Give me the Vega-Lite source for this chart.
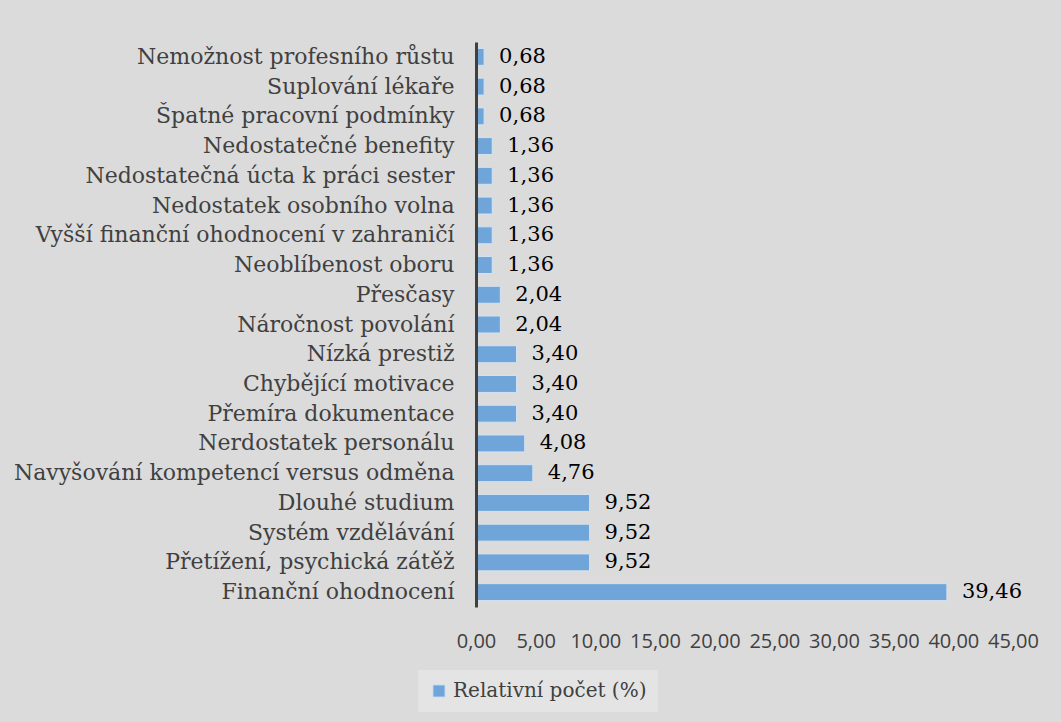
{
  "$schema": "https://vega.github.io/schema/vega-lite/v6.json",
  "width": 537,
  "height": 565,
  "autosize": {"type": "none"},
  "padding": {"left": 476, "top": 42, "right": 48, "bottom": 115},
  "background": "#dbdbdb",
  "config": {
    "locale": {"number": {"decimal": ",", "thousands": " ", "grouping": [3], "currency": ["", " Kč"]}},
    "view": {"stroke": null}
  },
  "data": {
    "values": [
      {"duvod": "Nemožnost profesního růstu", "procento": 0.68},
      {"duvod": "Suplování lékaře", "procento": 0.68},
      {"duvod": "Špatné pracovní podmínky", "procento": 0.68},
      {"duvod": "Nedostatečné benefity", "procento": 1.36},
      {"duvod": "Nedostatečná úcta k práci sester", "procento": 1.36},
      {"duvod": "Nedostatek osobního volna", "procento": 1.36},
      {"duvod": "Vyšší finanční ohodnocení v zahraničí", "procento": 1.36},
      {"duvod": "Neoblíbenost oboru ", "procento": 1.36},
      {"duvod": "Přesčasy", "procento": 2.04},
      {"duvod": "Náročnost povolání", "procento": 2.04},
      {"duvod": "Nízká prestiž", "procento": 3.40},
      {"duvod": "Chybějící motivace", "procento": 3.40},
      {"duvod": "Přemíra dokumentace", "procento": 3.40},
      {"duvod": "Nerdostatek personálu", "procento": 4.08},
      {"duvod": "Navyšování kompetencí versus odměna", "procento": 4.76},
      {"duvod": "Dlouhé studium", "procento": 9.52},
      {"duvod": "Systém vzdělávání", "procento": 9.52},
      {"duvod": "Přetížení, psychická zátěž", "procento": 9.52},
      {"duvod": "Finanční ohodnocení", "procento": 39.46}
    ]
  },
  "encoding": {
    "y": {
      "field": "duvod",
      "type": "nominal",
      "sort": null,
      "scale": {"paddingInner": 0.43, "paddingOuter": 0.215},
      "axis": {
        "title": null,
        "ticks": false,
        "domain": true,
        "domainColor": "#404040",
        "domainWidth": 3,
        "zindex": 1,
        "labelFont": "DejaVu Serif",
        "labelFontSize": 22,
        "labelColor": "#404040",
        "labelPadding": 22,
        "labelLimit": 600
      }
    },
    "x": {
      "field": "procento",
      "type": "quantitative",
      "scale": {"domain": [0, 45], "nice": false},
      "axis": {
        "title": null,
        "grid": false,
        "ticks": false,
        "domain": false,
        "values": [0, 5, 10, 15, 20, 25, 30, 35, 40, 45],
        "format": ".2f",
        "labelFont": "Open Sans",
        "labelFontSize": 20,
        "labelColor": "#404040",
        "labelPadding": 24,
        "labelFlush": false,
        "labelOverlap": false
      }
    }
  },
  "layer": [
    {
      "mark": {"type": "bar", "stroke": "#d2e3f3", "strokeWidth": 1},
      "encoding": {
        "color": {
          "datum": "Relativní počet (%)",
          "type": "nominal",
          "scale": {"range": ["#6fa5d8"]},
          "legend": {
            "title": null,
            "orient": "none",
            "legendX": -58,
            "legendY": 628,
            "direction": "horizontal",
            "symbolType": "square",
            "symbolSize": 150,
            "symbolStrokeColor": "#d2e3f3",
            "symbolStrokeWidth": 1,
            "labelFont": "DejaVu Serif",
            "labelFontSize": 20,
            "labelColor": "#404040",
            "labelOffset": 4,
            "fillColor": "#e4e4e4",
            "padding": 11,
            "labelLimit": 400
          }
        }
      }
    },
    {
      "mark": {"type": "text", "align": "left", "baseline": "middle", "dx": 15, "font": "DejaVu Serif", "fontSize": 21, "color": "#000000"},
      "encoding": {
        "text": {"field": "procento", "type": "quantitative", "format": ".2f"}
      }
    }
  ]
}
